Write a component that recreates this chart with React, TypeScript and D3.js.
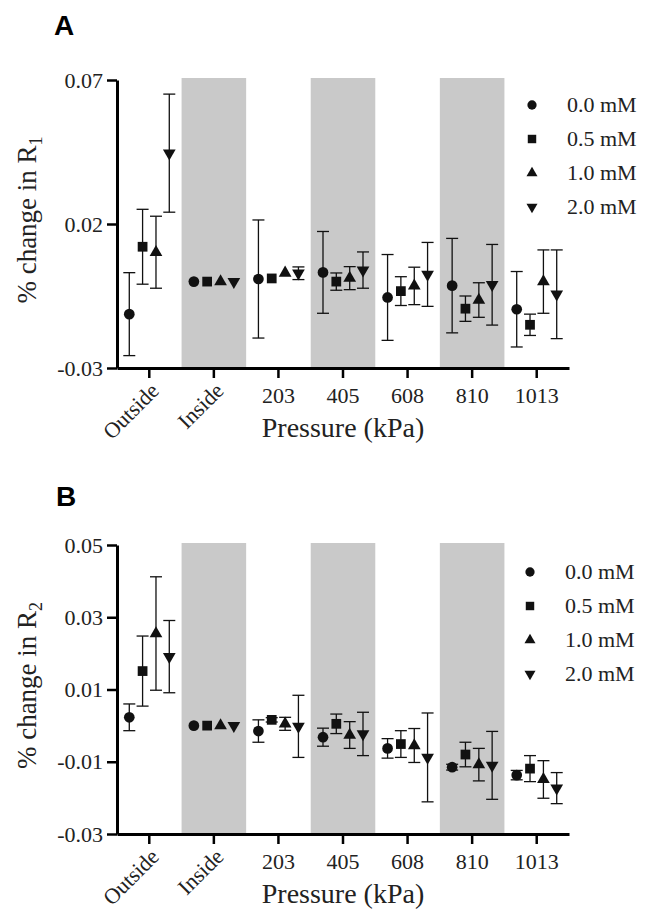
import React, { useRef, useEffect } from 'react';
import * as d3 from 'd3';

// x categories (pressure) and the shaded ones
const categories = ['Outside', 'Inside', '203', '405', '608', '810', '1013'];
const shadedCats = ['Inside', '405', '810'];
const seriesNames = ['0.0 mM', '0.5 mM', '1.0 mM', '2.0 mM'];

// panel A, % change in R1 (mean and error per category)
const r1Mean00 = [-0.0113, 0, 0.0009, 0.0032, -0.0055, -0.0014, -0.0096];
const r1Err00 = [0.0144, 0, 0.0205, 0.0142, 0.0149, 0.0164, 0.0131];
const r1Mean05 = [0.0121, 0, 0.0011, 0.0, -0.0033, -0.0094, -0.015];
const r1Err05 = [0.013, 0, 0, 0.003, 0.005, 0.0044, 0.0037];
const r1Mean10 = [0.0102, 0, 0.003, 0.0012, -0.0015, -0.0064, 0.0];
const r1Err10 = [0.0125, 0, 0, 0.004, 0.0065, 0.006, 0.011];
const r1Mean20 = [0.0446, 0, 0.0029, 0.004, 0.0025, -0.0011, -0.0044];
const r1Err20 = [0.0205, 0, 0.0022, 0.0063, 0.0111, 0.014, 0.0154];

// panel B, % change in R2
const r2Mean00 = [0.0023, 0, -0.0015, -0.0032, -0.0063, -0.0115, -0.0137];
const r2Err00 = [0.0037, 0, 0.0031, 0.0025, 0.0027, 0.0008, 0.0013];
const r2Mean05 = [0.0151, 0, 0.0016, 0.0005, -0.0051, -0.008, -0.0119];
const r2Err05 = [0.0097, 0, 0.0006, 0.0027, 0.0037, 0.0034, 0.0036];
const r2Mean10 = [0.0255, 0, 0.0005, -0.0026, -0.0055, -0.0108, -0.0149];
const r2Err10 = [0.0157, 0, 0.0018, 0.0037, 0.0047, 0.0045, 0.0052];
const r2Mean20 = [0.0191, 0, -0.0002, -0.0023, -0.0088, -0.011, -0.0173];
const r2Err20 = [0.01, 0, 0.0086, 0.006, 0.0123, 0.0094, 0.0043];

const r1Ticks = [-0.03, 0.02, 0.07];
const r2Ticks = [-0.03, -0.01, 0.01, 0.03, 0.05];

const serif = "Liberation Serif, DejaVu Serif, serif";

const symbols = [
  { type: d3.symbolCircle, size: 90, rot: 0 },
  { type: d3.symbolSquare, size: 95, rot: 0 },
  { type: d3.symbolTriangle, size: 70, rot: 0 },
  { type: d3.symbolTriangle, size: 70, rot: 180 },
];

function drawPanel(svg, o) {
  const left = 117, right = 569;
  const x = d3.scaleBand().domain(categories).range([left, right]);
  const y = d3.scaleLinear().domain(o.domain).range([o.bottom, o.top]);
  const g = svg.append('g').style('font-family', serif);

  // shaded bands
  g.selectAll('rect.band')
    .data(shadedCats)
    .enter()
    .append('rect')
    .attr('x', d => x(d))
    .attr('width', x.bandwidth())
    .attr('y', o.top - 2)
    .attr('height', o.bottom - o.top + 2)
    .attr('fill', '#c9c9c9');

  // y axis
  const ya = g.append('g')
    .attr('transform', `translate(${left},0)`)
    .call(d3.axisLeft(y).tickValues(o.ticks).tickSize(10).tickSizeOuter(0).tickPadding(4)
      .tickFormat(d => d.toFixed(2)));
  ya.attr('font-family', null);
  ya.select('.domain').attr('stroke-width', 3);
  ya.selectAll('.tick line').attr('stroke-width', 2.5);
  ya.selectAll('text').style('font-family', serif).attr('font-size', 22).attr('fill', '#222');

  // x axis
  const xa = g.append('g')
    .attr('transform', `translate(0,${o.bottom})`)
    .call(d3.axisBottom(x).tickSize(10).tickSizeOuter(0).tickPadding(9)
      .tickFormat(d => (d === 'Outside' || d === 'Inside') ? '' : d));
  xa.attr('font-family', null);
  xa.select('.domain').attr('stroke-width', 3);
  xa.selectAll('.tick line').attr('stroke-width', 2.5);
  xa.selectAll('text').style('font-family', serif).attr('font-size', 22).attr('fill', '#222');

  g.selectAll('text.rot')
    .data(['Outside', 'Inside'])
    .enter()
    .append('text')
    .attr('transform', d => `translate(${x(d) + x.bandwidth() / 2 + 11},${o.bottom + 24}) rotate(-45)`)
    .attr('text-anchor', 'end')
    .style('font-family', serif)
    .attr('font-size', 22)
    .attr('fill', '#222')
    .text(d => d);

  // axis titles
  g.append('text')
    .attr('x', (left + right) / 2)
    .attr('y', o.bottom + 69)
    .attr('text-anchor', 'middle')
    .style('font-family', serif)
    .attr('font-size', 28)
    .attr('fill', '#222')
    .text('Pressure (kPa)');

  const yt = g.append('text')
    .attr('transform', `translate(36,${(o.top + o.bottom) / 2 - 4}) rotate(-90)`)
    .attr('text-anchor', 'middle')
    .style('font-family', serif)
    .attr('font-size', 27)
    .attr('fill', '#222');
  yt.append('tspan').text('% change in R');
  yt.append('tspan').attr('font-size', 18).attr('dy', 6).text(o.sub);

  g.append('text')
    .attr('x', o.letterX)
    .attr('y', o.letterY)
    .style('font-family', 'Liberation Sans, Arial, sans-serif')
    .attr('font-weight', 'bold')
    .attr('font-size', 28)
    .text(o.letter);

  // error bars and markers
  const offsets = [-20, -6.7, 6.7, 20];
  o.means.forEach((mean, s) => {
    const err = o.errs[s];
    const cx = i => x(categories[i]) + x.bandwidth() / 2 + offsets[s];
    const sg = g.append('g');
    categories.forEach((c, i) => {
      if (err[i] <= 0) return;
      const y0 = y(mean[i] - err[i]), y1 = y(mean[i] + err[i]);
      sg.append('line').attr('x1', cx(i)).attr('x2', cx(i)).attr('y1', y0).attr('y2', y1)
        .attr('stroke', '#111').attr('stroke-width', 1.3);
      [y0, y1].forEach(yy => {
        sg.append('line').attr('x1', cx(i) - 6).attr('x2', cx(i) + 6).attr('y1', yy).attr('y2', yy)
          .attr('stroke', '#111').attr('stroke-width', 1.3);
      });
    });
    const sym = symbols[s];
    sg.selectAll('path.pt')
      .data(mean)
      .enter()
      .append('path')
      .attr('d', d3.symbol().type(sym.type).size(sym.size))
      .attr('transform', (d, i) => `translate(${cx(i)},${y(d)}) rotate(${sym.rot})`)
      .attr('fill', '#111');
  });

  // legend
  seriesNames.forEach((name, s) => {
    const ly = o.legendY + s * 34;
    const sym = symbols[s];
    g.append('path')
      .attr('d', d3.symbol().type(sym.type).size(sym.size * 0.75))
      .attr('transform', `translate(${o.legendX},${ly}) rotate(${sym.rot})`)
      .attr('fill', '#111');
    g.append('text')
      .attr('x', o.legendX + 35)
      .attr('y', ly + 7)
      .style('font-family', serif)
      .attr('font-size', 22)
      .attr('fill', '#222')
      .text(name);
  });
}

const App = () => {
  const ref = useRef(null);

  useEffect(() => {
    const svg = d3.select(ref.current);
    svg.selectAll('*').remove();

    drawPanel(svg, {
      top: 80, bottom: 368, domain: [-0.03, 0.07], ticks: r1Ticks, sub: '1',
      means: [r1Mean00, r1Mean05, r1Mean10, r1Mean20],
      errs: [r1Err00, r1Err05, r1Err10, r1Err20],
      letter: 'A', letterX: 54, letterY: 35, legendX: 532, legendY: 105,
    });
    drawPanel(svg, {
      top: 545, bottom: 834, domain: [-0.03, 0.05], ticks: r2Ticks, sub: '2',
      means: [r2Mean00, r2Mean05, r2Mean10, r2Mean20],
      errs: [r2Err00, r2Err05, r2Err10, r2Err20],
      letter: 'B', letterX: 56, letterY: 506, legendX: 530, legendY: 572,
    });
  }, []);

  return (
    <svg ref={ref} width={654} height={914}
      style={{ position: 'absolute', left: 0, top: 0, background: '#fff' }} />
  );
};

export default App;
